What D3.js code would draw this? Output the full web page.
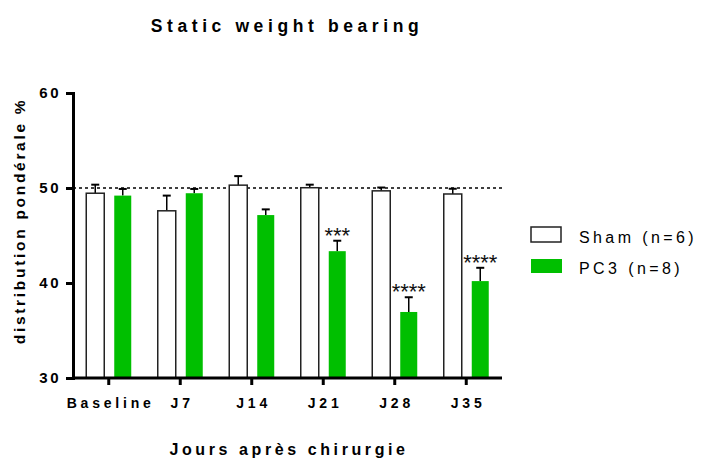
<!DOCTYPE html>
<html><head><meta charset="utf-8">
<script src="https://cdn.jsdelivr.net/npm/d3@7"></script>
<style>body{margin:0;background:#fff;} text{font-family:"Liberation Sans",Arial,sans-serif;}</style>
</head><body>
<svg id="c" width="702" height="459"></svg>
<script>
const categories = ["Baseline","J7","J14","J21","J28","J35"];
const shamMean = [49.45, 47.6, 50.3, 50.03, 49.7, 49.37];
const shamSem  = [0.9, 1.6, 0.95, 0.32, 0.35, 0.55];
const pc3Mean  = [49.2, 49.45, 47.15, 43.35, 36.95, 40.2];
const pc3Sem   = [0.7, 0.45, 0.6, 1.1, 1.55, 1.4];
const stars    = ["", "", "", "***", "****", "****"];
const yTicks   = [30, 40, 50, 60];
const seriesNames = ["Sham (n=6)", "PC3 (n=8)"];
const refLine = 50;

const svg = d3.select("#c");
const x = d3.scaleBand().domain(categories).range([73, 502]);
const y = d3.scaleLinear().domain([30, 60]).range([378, 93]);
const green = "#00bf00";

// dotted reference line
svg.append("line").attr("x1", 73).attr("x2", 502).attr("y1", y(refLine)).attr("y2", y(refLine))
  .attr("stroke", "#000").attr("stroke-width", 1.3).attr("stroke-dasharray", "3,3");

const bw = 18, off = 4.5;
const g = svg.append("g");
categories.forEach((c, i) => {
  const cx = x(c) + x.bandwidth() / 2;
  // sham
  const sx = cx - off - bw;
  g.append("line").attr("x1", sx + bw/2).attr("x2", sx + bw/2).attr("y1", y(shamMean[i])).attr("y2", y(shamMean[i] + shamSem[i])).attr("stroke", "#000").attr("stroke-width", 1.5);
  g.append("line").attr("x1", sx + bw/2 - 4).attr("x2", sx + bw/2 + 4).attr("y1", y(shamMean[i] + shamSem[i])).attr("y2", y(shamMean[i] + shamSem[i])).attr("stroke", "#000").attr("stroke-width", 2);
  g.append("rect").attr("x", sx).attr("y", y(shamMean[i])).attr("width", bw).attr("height", y(30) - y(shamMean[i]))
    .attr("fill", "#fff").attr("stroke", "#222").attr("stroke-width", 1.5);
  // pc3
  const px = cx + off + 1;
  const pw = 17;
  g.append("line").attr("x1", px + pw/2).attr("x2", px + pw/2).attr("y1", y(pc3Mean[i])).attr("y2", y(pc3Mean[i] + pc3Sem[i])).attr("stroke", "#000").attr("stroke-width", 1.5);
  g.append("line").attr("x1", px + pw/2 - 4).attr("x2", px + pw/2 + 4).attr("y1", y(pc3Mean[i] + pc3Sem[i])).attr("y2", y(pc3Mean[i] + pc3Sem[i])).attr("stroke", "#000").attr("stroke-width", 2);
  g.append("rect").attr("x", px).attr("y", y(pc3Mean[i])).attr("width", pw).attr("height", y(30) - y(pc3Mean[i]))
    .attr("fill", green);
  if (stars[i]) {
    g.append("text").attr("x", px + pw/2).attr("y", y(pc3Mean[i] + pc3Sem[i]) + 2)
      .attr("text-anchor", "middle").attr("font-size", 22).attr("fill", "#111").text(stars[i]);
  }
});

// axes
const yAxis = svg.append("g").attr("transform", "translate(73,0)")
  .call(d3.axisLeft(y).tickValues(yTicks).tickSize(7).tickPadding(5));
yAxis.select(".domain").attr("stroke-width", 3);
yAxis.selectAll(".tick line").attr("stroke-width", 3);
yAxis.selectAll("text").attr("font-size", 15).attr("font-weight", "bold").attr("fill", "#000").attr("letter-spacing", 2.5);

const xAxis = svg.append("g").attr("transform", "translate(0,378)")
  .call(d3.axisBottom(x).tickSize(7).tickPadding(13));
xAxis.select(".domain").attr("stroke-width", 3).attr("d", "M73,0H502");
xAxis.selectAll(".tick line").attr("stroke-width", 3);
xAxis.selectAll("text").attr("font-size", 14).attr("font-weight", "bold").attr("fill", "#000").attr("letter-spacing", 3.8).attr("dx", 1.9);

// titles
svg.append("text").attr("x", 287).attr("y", 32).attr("text-anchor", "middle")
  .attr("font-size", 17.5).attr("font-weight", "bold").attr("letter-spacing", 4.6).text("Static weight bearing");
svg.append("text").attr("x", 289).attr("y", 455).attr("text-anchor", "middle")
  .attr("font-size", 16).attr("font-weight", "bold").attr("letter-spacing", 3.6).text("Jours après chirurgie");
svg.append("text").attr("transform", "translate(25,221) rotate(-90)").attr("text-anchor", "middle")
  .attr("font-size", 15.5).attr("font-weight", "bold").attr("letter-spacing", 2.7).text("distribution pondérale %");

// legend
const leg = svg.append("g");
leg.append("rect").attr("x", 531).attr("y", 227).attr("width", 30).attr("height", 15).attr("fill", "#fff").attr("stroke", "#222").attr("stroke-width", 1.5);
leg.append("rect").attr("x", 531).attr("y", 259).attr("width", 31).attr("height", 14).attr("fill", green);
leg.append("text").attr("x", 579).attr("y", 243).attr("font-size", 16).attr("letter-spacing", 3.4).text(seriesNames[0]);
leg.append("text").attr("x", 579).attr("y", 273.5).attr("font-size", 16).attr("letter-spacing", 3.4).text(seriesNames[1]);
</script>
</body></html>
